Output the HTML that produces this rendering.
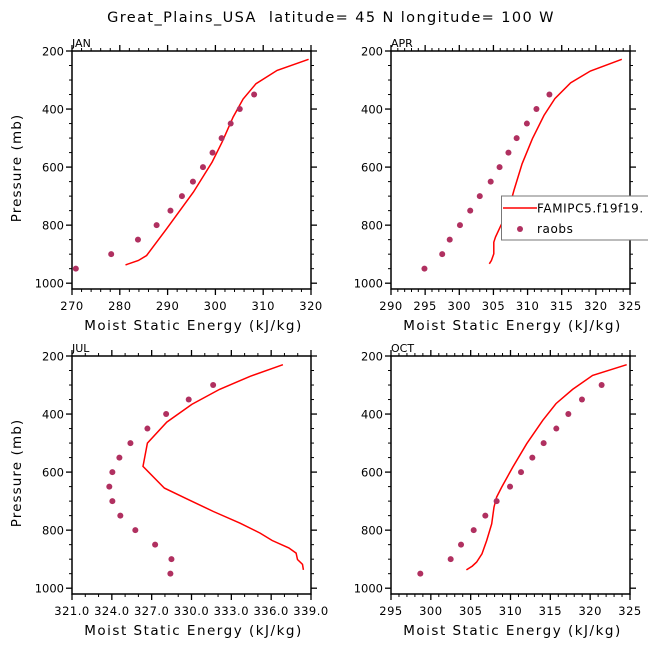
<!DOCTYPE html>
<html><head><meta charset="utf-8"><style>
body{margin:0;background:#fff;}
svg text{font-family:"DejaVu Sans","Liberation Sans",sans-serif;fill:#000;white-space:pre;}
</style></head><body>
<svg id="c" width="648" height="649" xmlns="http://www.w3.org/2000/svg">
<text x="331" y="22" font-size="14.5" letter-spacing="1.4" text-anchor="middle">Great_Plains_USA  latitude= 45 N longitude= 100 W</text>
</svg>
<script>
const obsP=[350,400,450,500,550,600,650,700,750,800,850,900,950];
const janObs=[308.1,305.1,303.2,301.3,299.4,297.4,295.3,293.0,290.6,287.7,283.8,278.2,270.8];
const janModP=[228.7,266.7,312.6,365.5,427.6,513.8,582.8,686.2,812.6,904.6,921.8,936.8];
const janMod=[319.5,312.9,308.5,305.8,303.7,301.4,299.3,295.4,289.8,285.6,283.9,281.2];
const aprObs=[313.2,311.3,309.9,308.4,307.2,305.9,304.6,303.0,301.6,300.1,298.6,297.5,294.9];
const aprModP=[228.7,269,310,364,422,502,588.5,680.5,749,801,841,858.6,898.8,921.8,933.3];
const aprMod=[323.8,319.2,316.3,314.0,312.4,310.7,309.2,308.0,307.2,306.1,305.3,305.05,305.05,304.7,304.4];
const julObsP=[300,350,400,450,500,550,600,650,700,750,800,850,900,950];
const julObs=[331.63,329.79,328.09,326.68,325.40,324.57,324.04,323.81,324.04,324.64,325.77,327.26,328.49,328.41];
const julModP=[229.9,270,315,366.7,427.6,500,580.5,655,692,735.6,775.9,810.3,835.6,861,879,901,918,937];
const julMod=[336.88,334.42,332.11,330.02,328.14,326.68,326.35,327.96,329.64,331.65,333.66,335.17,336.08,337.33,337.88,337.98,338.36,338.43];
const octObs=[321.44,318.97,317.26,315.75,314.16,312.74,311.32,309.94,308.26,306.84,305.38,303.79,302.49,298.68];
const octModP=[229.9,266.7,315,364,421.8,502,583,651.7,686,720.6,778,835.6,881.6,910,924,937];
const octMod=[324.58,320.31,317.80,315.71,314.04,312.03,310.27,308.89,308.26,307.93,307.64,307.01,306.42,305.75,305.21,304.46];
const janTicks=['270','280','290','300','310','320'];
const aprTicks=['290','295','300','305','310','315','320','325'];
const julTicks=['321.0','324.0','327.0','330.0','333.0','336.0','339.0'];
const octTicks=['295','300','305','310','315','320','325'];
const pTicks=['200','400','600','800','1000'];

const NS='http://www.w3.org/2000/svg';
const svg=document.getElementById('c');
function mk(tag,attrs,parent){const e=document.createElementNS(NS,tag);for(const k in attrs)e.setAttribute(k,attrs[k]);(parent||svg).appendChild(e);return e;}

function panel(o){
  const g=mk('g',{});
  
  
  const L=o.x,T=o.y,W=239,H=238,P0=200,P1=1020;
  const xmin=parseFloat(o.ticks[0]),xmax=parseFloat(o.ticks[o.ticks.length-1]);
  const sx=v=>L+(v-xmin)/(xmax-xmin)*W;
  const sy=p=>T+(p-P0)/(P1-P0)*H;
  const step=(xmax-xmin)/(o.ticks.length-1);
  const minorN=o.minor;
  for(let i=0;i<o.ticks.length-1;i++){for(let j=1;j<minorN;j++){const xv=sx(xmin+step*(i+j/minorN));
    mk('line',{x1:xv,x2:xv,y1:T+H,y2:T+H+3,stroke:'#000','stroke-width':1},g);
    mk('line',{x1:xv,x2:xv,y1:T,y2:T-3,stroke:'#000','stroke-width':1},g);}}
  for(let p=250;p<1020;p+=50){if(p%200===0)continue;const yv=sy(p);
    mk('line',{x1:L,x2:L-3,y1:yv,y2:yv,stroke:'#000','stroke-width':1},g);
    mk('line',{x1:L+W,x2:L+W+3,y1:yv,y2:yv,stroke:'#000','stroke-width':1},g);}
  o.ticks.forEach((t,i)=>{const xv=sx(xmin+step*i);
    mk('line',{x1:xv,x2:xv,y1:T+H,y2:T+H+6,stroke:'#000','stroke-width':1.3},g);
    mk('line',{x1:xv,x2:xv,y1:T,y2:T-6,stroke:'#000','stroke-width':1.3},g);
    const tx=mk('text',{x:xv,y:T+H+21,'font-size':11.5,'letter-spacing':0.5,'text-anchor':'middle'},g);
    
    
    tx.textContent=t;});
  pTicks.forEach(t=>{const yv=sy(+t);
    mk('line',{x1:L,x2:L-6,y1:yv,y2:yv,stroke:'#000','stroke-width':1.3},g);
    mk('line',{x1:L+W,x2:L+W+6,y1:yv,y2:yv,stroke:'#000','stroke-width':1.3},g);
    const tx=mk('text',{x:L-8,y:yv+4.5,'font-size':11.5,'text-anchor':'end'},g);
    
    
    tx.textContent=t;});
  const fr=mk('rect',{x:L,y:T,width:W,height:H,fill:'none',stroke:'#000','stroke-width':1.5},g);
  
  
  const lb=mk('text',{x:L,y:T-4,'font-size':11},g);
  
  
  lb.textContent=o.label;
  const xt=mk('text',{x:L+W/2+2,y:T+H+41,'font-size':13.5,'letter-spacing':1.5,'text-anchor':'middle'},g);
  
  
  xt.textContent='Moist Static Energy (kJ/kg)';
  if(o.ytitle){const yt=mk('text',{x:0,y:0,'font-size':13.5,'letter-spacing':1.1,'text-anchor':'middle',transform:`translate(21,${T+H/2-2}) rotate(-90)`},g);
    
    
    yt.textContent='Pressure (mb)';}
  const pts=o.mod.map((v,i)=>sx(v).toFixed(1)+','+sy(o.modP[i]).toFixed(1)).join(' ');
  const ln=mk('polyline',{points:pts,fill:'none',stroke:'#ff0000','stroke-width':1.5},g);
  
  
  o.obs.forEach((v,i)=>{const c=mk('circle',{cx:sx(v),cy:sy(o.obsP[i]),r:3,fill:'#b03060'},g);
    
    });
}
panel({name:'jan',label:'JAN',x:72,y:51,ticks:janTicks,minor:5,mod:janMod,modP:janModP,obs:janObs,obsP:obsP,ytitle:true});
panel({name:'apr',label:'APR',x:391,y:51,ticks:aprTicks,minor:5,mod:aprMod,modP:aprModP,obs:aprObs,obsP:obsP,ytitle:false});
panel({name:'jul',label:'JUL',x:72,y:356,ticks:julTicks,minor:3,mod:julMod,modP:julModP,obs:julObs,obsP:julObsP,ytitle:true});
panel({name:'oct',label:'OCT',x:391,y:356,ticks:octTicks,minor:5,mod:octMod,modP:octModP,obs:octObs,obsP:julObsP,ytitle:false});
const lg=mk('g',{});


mk('rect',{x:501.5,y:196,width:160,height:44,fill:'#fff',stroke:'#777','stroke-width':1},lg);
mk('line',{x1:503,x2:537,y1:208,y2:208,stroke:'#ff0000','stroke-width':1.5},lg);
const t1=mk('text',{x:537,y:212.5,'font-size':12,'letter-spacing':0.6},lg);


t1.textContent='FAMIPC5.f19f19.';
mk('circle',{cx:520,cy:229,r:3,fill:'#b03060'},lg);
const t2=mk('text',{x:537,y:233,'font-size':12,'letter-spacing':0.6},lg);


t2.textContent='raobs';
</script>
</body></html>
